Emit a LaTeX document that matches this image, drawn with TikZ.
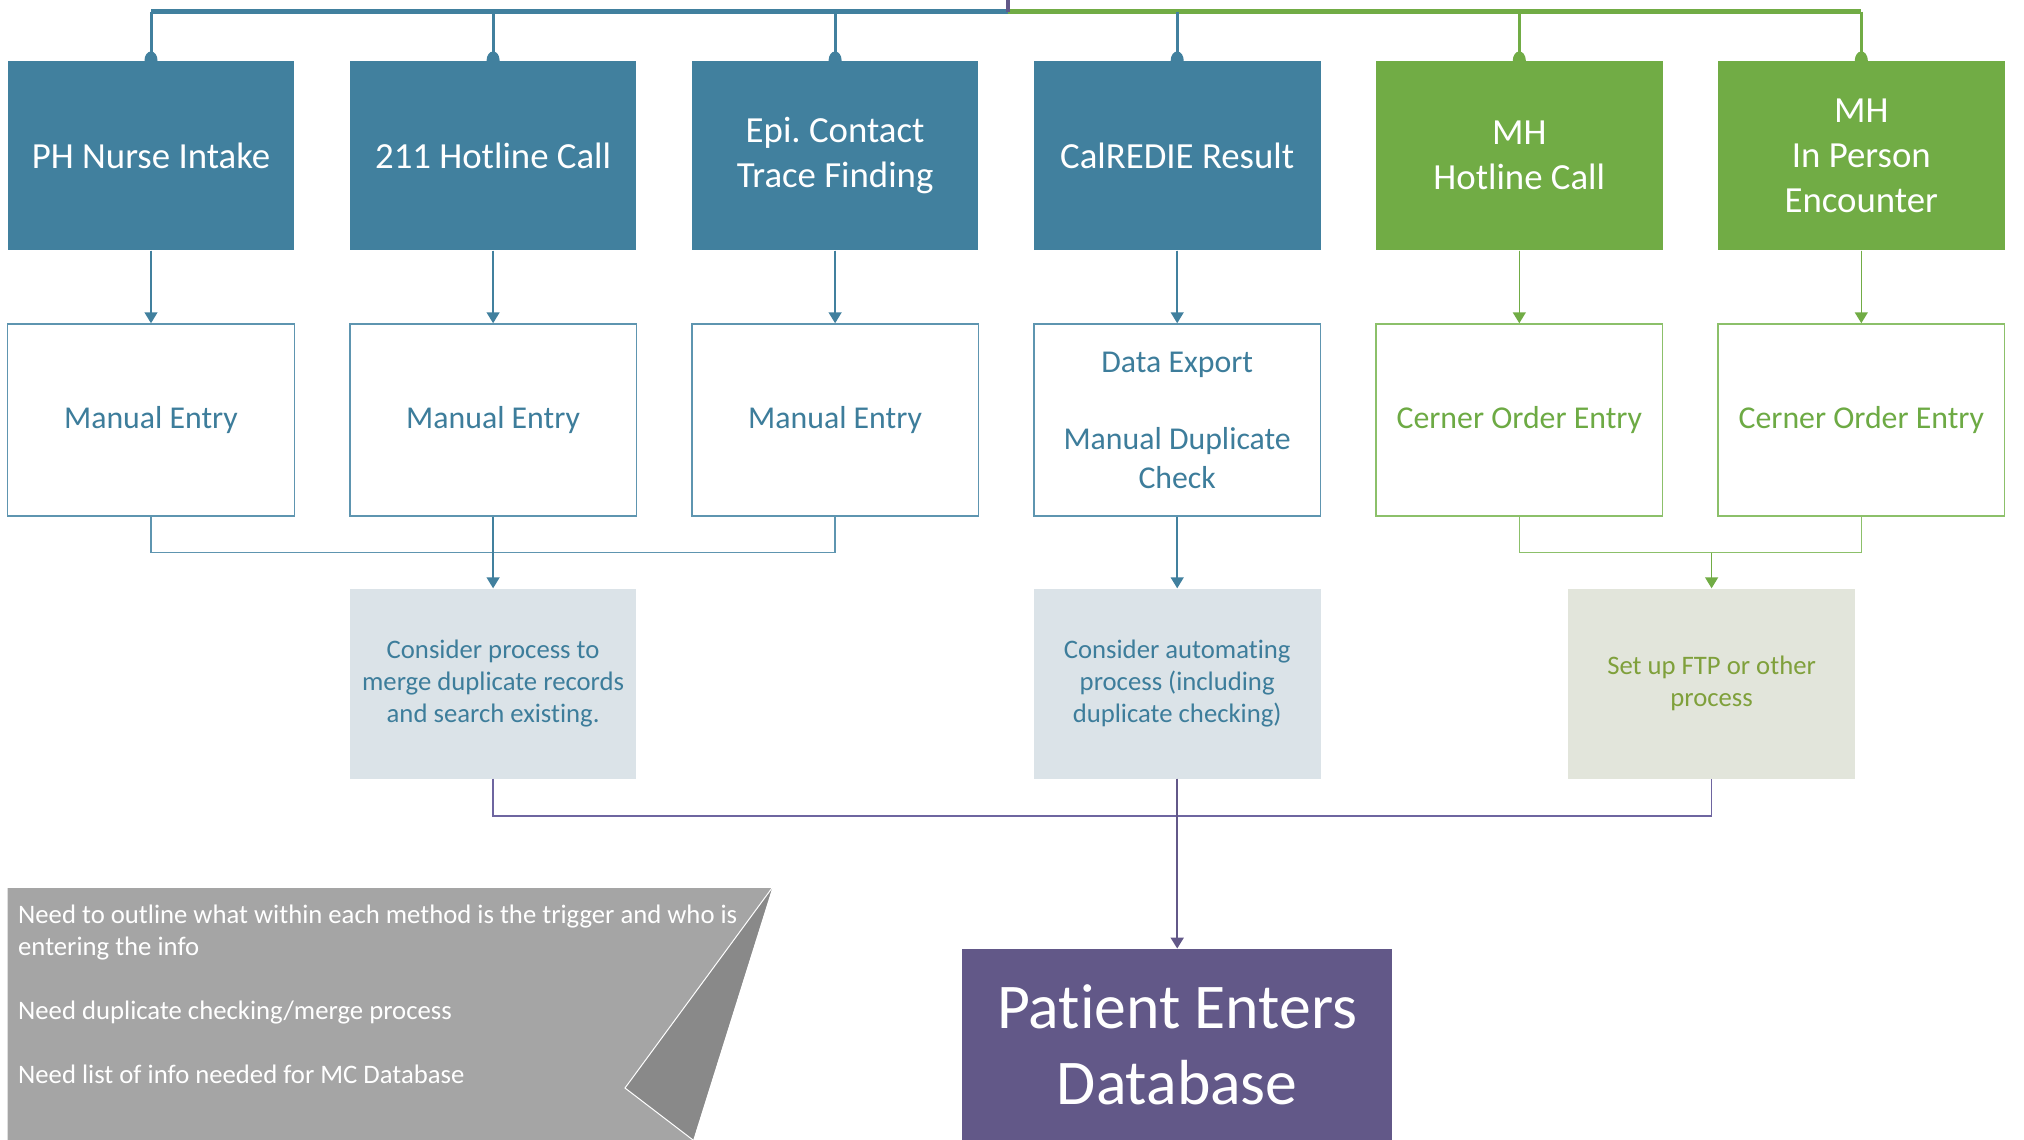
\documentclass[tikz,border=0pt]{standalone}
\usepackage{fontspec}
\setmainfont{Carlito}[Ligatures={NoCommon}]
\usetikzlibrary{arrows.meta,calc}
\definecolor{cblue}{HTML}{41809E}
\definecolor{cgreen}{HTML}{71AC45}
\definecolor{tblue}{HTML}{3D7D9B}
\definecolor{tgreen}{HTML}{6DAA44}
\definecolor{bblue}{HTML}{5E95B0}
\definecolor{bgreen}{HTML}{8CC06A}
\definecolor{fblue}{HTML}{DBE3E8}
\definecolor{fgreen}{HTML}{E2E5DB}
\definecolor{tolive}{HTML}{7FA03B}
\definecolor{cpurple}{HTML}{625888}
\definecolor{lpurple}{HTML}{6E65A0}
\definecolor{cgray}{HTML}{A5A5A5}
\definecolor{dgray}{HTML}{898989}
\frenchspacing
\tikzset{
  topbox/.style={minimum width=286.6pt, minimum height=189.7pt, inner sep=0pt, text=white, align=center,
    font=\fontsize{36.8pt}{45pt}\selectfont},
  entrybox/.style={draw, fill=white, line width=1.5pt, minimum width=286.6pt, minimum height=192pt, inner sep=0pt,
    align=center, font=\fontsize{31.8pt}{38.7pt}\selectfont},
  ideabox/.style={minimum width=286.6pt, minimum height=190pt, inner sep=0pt, align=center,
    font=\fontsize{26.7pt}{32pt}\selectfont},
  tip/.style={-{Triangle[width=13pt,length=11pt]}},
  conB/.style={draw=bblue, line width=1.5pt},
  conG/.style={draw=bgreen, line width=1.5pt},
  conP/.style={draw=lpurple, line width=1.5pt},
  dropB/.style={draw=cblue, line width=3pt},
  dropG/.style={draw=cgreen, line width=3pt},
}
\begin{document}
\begin{tikzpicture}[x=1pt,y=-1pt]
\useasboundingbox (0,0) rectangle (2024,1140);

% top row
\node[topbox, fill=cblue]  (t1) at (151.0,155.5) {PH Nurse Intake};
\node[topbox, fill=cblue]  (t2) at (493.1,155.5) {211 Hotline Call};
\node[topbox, fill=cblue]  (t3) at (835.1,155.5) {Epi. Contact\\Trace Finding};
\node[topbox, fill=cblue]  (t4) at (1177.2,155.5) {CalREDIE Result};
\node[topbox, fill=cgreen] (t5) at (1519.3,155.5) {MH\\Hotline Call};
\node[topbox, fill=cgreen] (t6) at (1861.3,155.5) {MH\\In Person\\Encounter};

% second row
\node[entrybox, draw=bblue, text=tblue] (e1) at (151.0,420) {Manual Entry};
\node[entrybox, draw=bblue, text=tblue] (e2) at (493.1,420) {Manual Entry};
\node[entrybox, draw=bblue, text=tblue] (e3) at (835.1,420) {Manual Entry};
\node[entrybox, draw=bblue, text=tblue] (e4) at (1177.2,420) {Data Export\\[38.7pt]Manual Duplicate\\Check};
\node[entrybox, draw=bgreen, text=tgreen] (e5) at (1519.3,420) {Cerner Order Entry};
\node[entrybox, draw=bgreen, text=tgreen] (e6) at (1861.3,420) {Cerner Order Entry};

% third row
\node[ideabox, fill=fblue, text=tblue] (p1) at (493.1,683.5) {Consider process to\\merge duplicate records\\and search existing.};
\node[ideabox, fill=fblue, text=tblue] (p2) at (1177.2,683.5) {Consider automating\\process (including\\duplicate checking)};
\node[ideabox, fill=fgreen, text=tolive] (p3) at (1711.6,683.5) {Set up FTP or other\\process};

% database
\node[fill=cpurple, minimum width=430pt, minimum height=191.3pt, inner sep=0pt, text=white, align=center,
  font=\fontsize{63.7pt}{76pt}\selectfont] (db) at (1177.2,1044.4) {Patient Enters\\Database};

% top distribution lines
\coordinate (hub) at (1008,11.6);
\draw[cblue, line width=4.5pt] (hub) -- (t1.north |- hub);
\draw[cgreen, line width=4.5pt] (hub) -- (t6.north |- hub);
\draw[cpurple, line width=4pt] (1008,0) -- (hub);
\foreach \n/\s/\c in {t1/dropB/cblue, t2/dropB/cblue, t3/dropB/cblue, t4/dropB/cblue, t5/dropG/cgreen, t6/dropG/cgreen}{
  \draw[\s] (\n.north |- hub) -- (\n.north);
  \fill[\c] (\n.north) ellipse (6.5pt and 9pt);
}

% top to entry
\foreach \i in {1,2,3,4}{ \draw[conB, tip, draw=cblue, fill=cblue] (t\i) -- (e\i); }
\foreach \i in {5,6}{ \draw[conG, tip, draw=cgreen, fill=cgreen] (t\i) -- (e\i); }

% entry to ideas
\coordinate (jy) at (0,552.5);
\draw[conB] (e1.south) -- (e1.south |- jy) -- (e3.south |- jy) -- (e3.south);
\draw[conB, tip, draw=cblue, fill=cblue] (e2.south) -- (p1.north);
\draw[conB, tip, draw=cblue, fill=cblue] (e4.south) -- (p2.north);
\draw[conG] (e5.south) -- (e5.south |- jy) -- (e6.south |- jy) -- (e6.south);
\draw[conG, tip, draw=cgreen, fill=cgreen] (p3.north |- jy) -- (p3.north);

% ideas to database
\coordinate (ky) at (0,815.8);
\draw[conP] (p1.south) -- (p1.south |- ky) -- (p3.south |- ky) -- (p3.south);
\draw[conP, tip, draw=cpurple, fill=cpurple, line width=2pt] (p2.south) -- (db.north);

% note with folded corner
\fill[cgray] (7.7,888) -- (772,888) -- (693,1140) -- (7.7,1140) -- cycle;
\fill[dgray] (772,888) -- (625,1088) -- (693,1140) -- cycle;
\draw[white, line width=1pt] (772,888) -- (625,1088) -- (693,1140);
\node[anchor=north west, inner sep=0pt, text=white, align=left,
  font=\fontsize{26.7pt}{32pt}\selectfont] (note) at (18,905)
  {Need to outline what within each method is the trigger and who is\\entering the info\\[32pt]Need duplicate checking/merge process\\[32pt]Need list of info needed for MC Database};
\end{tikzpicture}
\end{document}
